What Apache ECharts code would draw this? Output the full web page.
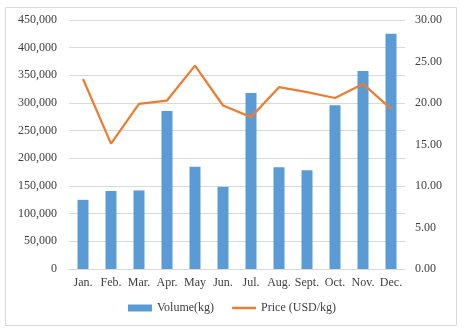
<!DOCTYPE html>
<html>
<head>
<meta charset="utf-8">
<script src="https://cdn.jsdelivr.net/npm/echarts@6/dist/echarts.min.js"></script>
<style>
html,body{margin:0;padding:0;background:#fff;}
#c{width:464px;height:330px;}
</style>
</head>
<body>
<div id="c"></div>
<script>
var categories = ['Jan.', 'Feb.', 'Mar.', 'Apr.', 'May', 'Jun.', 'Jul.', 'Aug.', 'Sept.', 'Oct.', 'Nov.', 'Dec.'];
var volumeKg = [125000, 141000, 142000, 285500, 185000, 148500, 318000, 184000, 178500, 296000, 358000, 425000];
var priceUsd = [22.9, 15.1, 19.9, 20.3, 24.5, 19.7, 18.3, 21.9, 21.3, 20.6, 22.3, 19.3];
var volumeLabel = 'Volume(kg)';
var priceLabel = 'Price (USD/kg)';

var font = 'Liberation Serif';
var txt = '#404040';
var chart = echarts.init(document.getElementById('c'), null, {renderer: 'canvas'});
chart.setOption({
  animation: false,
  backgroundColor: '#fff',
  textStyle: {fontFamily: font},
  graphic: [{
    type: 'rect',
    shape: {x: 5.5, y: 7.5, width: 451, height: 318},
    style: {fill: 'none', stroke: '#D9D9D9', lineWidth: 1},
    silent: true
  }],
  grid: {left: 69, right: 59, top: 20, bottom: 61, containLabel: false},
  legend: {
    bottom: 11,
    left: 'center',
    itemGap: 18,
    itemWidth: 24,
    itemHeight: 7,
    symbolKeepAspect: true,
    textStyle: {fontFamily: font, fontSize: 12, color: txt},
    data: [
      {name: volumeLabel, icon: 'rect'},
      {name: priceLabel, icon: 'path://M0,0 L24,0 L24,2.5 L0,2.5 Z'}
    ]
  },
  xAxis: {
    type: 'category',
    data: categories,
    axisLine: {show: true, lineStyle: {color: '#D9D9D9'}},
    axisTick: {show: false},
    axisLabel: {fontFamily: font, fontSize: 12, color: txt, margin: 8, interval: 0},
    splitLine: {show: false}
  },
  yAxis: [{
    type: 'value',
    min: 0, max: 450000, interval: 50000,
    axisLine: {show: false},
    axisTick: {show: false},
    axisLabel: {
      fontFamily: font, fontSize: 12, color: txt, margin: 12,
      formatter: function (v) { return v.toLocaleString('en-US'); }
    },
    splitLine: {lineStyle: {color: '#D9D9D9', width: 1}}
  }, {
    type: 'value',
    min: 0, max: 30, interval: 5,
    axisLine: {show: false},
    axisTick: {show: false},
    axisLabel: {
      fontFamily: font, fontSize: 12, color: txt, margin: 10,
      formatter: function (v) { return v.toFixed(2); }
    },
    splitLine: {show: false}
  }],
  series: [{
    name: volumeLabel,
    type: 'bar',
    data: volumeKg,
    barWidth: 11,
    itemStyle: {color: '#5B9BD5'},
    yAxisIndex: 0
  }, {
    name: priceLabel,
    type: 'line',
    data: priceUsd,
    yAxisIndex: 1,
    symbol: 'none',
    lineStyle: {color: '#ED7D31', width: 2.25},
    itemStyle: {color: '#ED7D31'}
  }]
});
</script>
</body>
</html>
